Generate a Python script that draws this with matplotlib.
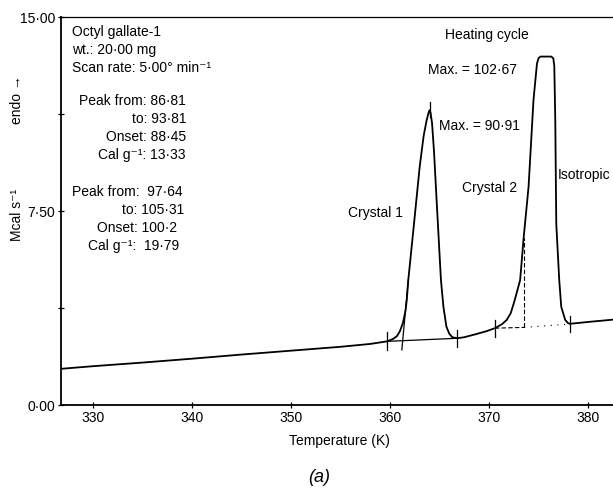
import matplotlib
matplotlib.use("Agg")
import matplotlib.pyplot as plt

plt.rcParams['font.family'] = ['Liberation Sans', 'DejaVu Sans']

# DSC trace
temp = [326.8, 330, 335, 340, 345, 350, 355, 358, 359.7, 360.3, 360.7, 361.0,
        361.3, 361.55, 361.7, 361.85, 362.4, 363.0, 363.4, 363.7, 363.9, 364.0,
        364.1, 364.25, 364.45, 364.7, 365.15, 365.4, 365.7, 366.0, 366.3, 366.8,
        367.5, 368.7, 369.8, 370.6, 371.3, 371.8, 372.2, 372.6, 373.15, 373.5,
        374.0, 374.5, 374.85, 375.0, 375.2, 376.3, 376.5, 376.6, 376.7, 376.8,
        377.1, 377.3, 377.7, 378.0, 378.2, 380, 382.53]
heat = [1.40, 1.50, 1.64, 1.79, 1.95, 2.10, 2.25, 2.36, 2.46, 2.55, 2.66, 2.85,
        3.16, 3.6, 4.06, 4.83, 6.9, 9.2, 10.4, 11.0, 11.3, 11.4,
        11.3, 10.9, 9.8, 8.0, 4.83, 3.80, 3.03, 2.75, 2.62, 2.58,
        2.62, 2.74, 2.86, 2.97, 3.12, 3.29, 3.55, 4.05, 4.83, 6.45,
        8.43, 11.8, 13.2, 13.4, 13.47, 13.47, 13.4, 13.1, 11.0, 7.0,
        4.83, 3.80, 3.29, 3.16, 3.14, 3.21, 3.30]

# peak limit marks
mark_t = [359.7, 366.8, 370.6, 378.2]
mark_lo = [2.13, 2.25, 2.62, 2.81]
mark_hi = [2.83, 2.90, 3.29, 3.44]

# baselines / onset constructions
base1_t = [359.7, 366.8]
base1_v = [2.46, 2.58]
onset1_t = [361.2, 361.85]
onset1_v = [2.13, 4.83]
apex1_t = [364.0, 364.0]
apex1_v = [11.15, 11.7]
base2_t = [370.6, 373.55]
base2_v = [2.97, 3.0]
onset2_t = [373.55, 373.55]
onset2_v = [3.0, 6.45]
base3_t = [373.55, 378.2]
base3_v = [3.0, 3.13]

x_ticks = [330, 340, 350, 360, 370, 380]
y_ticks = [0, 3.75, 7.5, 11.25, 15]
y_labels = ['0·00', '', '7·50', '', '15·00']

header = ['Octyl gallate-1', 'wt.: 20·00 mg', 'Scan rate: 5·00° min⁻¹']
peak1_lines = ['Peak from: 86·81', 'to: 93·81', 'Onset: 88·45', 'Cal g⁻¹: 13·33']
peak2_lines = ['Peak from:  97·64', 'to: 105·31', 'Onset: 100·2', 'Cal g⁻¹:  19·79']
peak2_left = [72, 122, 97, 88]

W, H = 613, 490
fig = plt.figure(figsize=(W / 100, H / 100), dpi=100)
ax = fig.add_axes([61 / W, 1 - 405 / H, 552 / W, 388 / H])


def px(x, y):
    return x / W, 1 - y / H


ax.plot(temp, heat, color='black', lw=1.3)
for t, lo, hi in zip(mark_t, mark_lo, mark_hi):
    ax.plot([t, t], [lo, hi], color='black', lw=0.9)
ax.plot(base1_t, base1_v, color='black', lw=0.9)
ax.plot(onset1_t, onset1_v, color='black', lw=0.9)
ax.plot(apex1_t, apex1_v, color='black', lw=0.9)
ax.plot(base2_t, base2_v, color='black', lw=0.8, ls=(0, (4, 2)))
ax.plot(onset2_t, onset2_v, color='black', lw=0.8, ls=(0, (4, 2)))
ax.plot(base3_t, base3_v, color='black', lw=0.8, ls=(0, (1, 5)))

ax.set_xlim(326.77, 382.53)
ax.set_ylim(0, 15)
ax.set_xticks(x_ticks)
ax.set_yticks(y_ticks)
ax.set_yticklabels(y_labels)
ax.tick_params(direction='inout', length=4, width=0.9, labelsize=10, pad=2)
ax.spines['right'].set_visible(False)
ax.spines['left'].set_linewidth(1.3)
ax.spines['bottom'].set_linewidth(1.3)
ax.spines['top'].set_linewidth(0.9)

fs = 10
for i, s in enumerate(header):
    fig.text(*px(72, 32 + 18 * i), s, fontsize=fs, va='center', ha='left')
for i, s in enumerate(peak1_lines):
    fig.text(*px(186, 101 + 18 * i), s, fontsize=fs, va='center', ha='right')
for i, s in enumerate(peak2_lines):
    fig.text(*px(peak2_left[i], 192 + 18 * i), s, fontsize=fs, va='center', ha='left')

fig.text(*px(487, 35), 'Heating cycle', fontsize=fs, va='center', ha='center')
fig.text(*px(428, 70), 'Max. = 102·67', fontsize=fs, va='center', ha='left')
fig.text(*px(439, 126), 'Max. = 90·91', fontsize=fs, va='center', ha='left')
fig.text(*px(462, 188), 'Crystal 2', fontsize=fs, va='center', ha='left')
fig.text(*px(558, 175), 'Isotropic', fontsize=fs, va='center', ha='left')
fig.text(*px(348, 213), 'Crystal 1', fontsize=fs, va='center', ha='left')

fig.text(*px(17, 215), 'Mcal s⁻¹', fontsize=fs, va='center', ha='center', rotation=90)
fig.text(*px(17, 100), 'endo →', fontsize=fs, va='center', ha='center', rotation=90)
fig.text(*px(339, 441), 'Temperature (K)', fontsize=fs, va='center', ha='center')
fig.text(*px(319, 477), '(a)', fontsize=13, va='center', ha='center', style='italic')

fig.savefig('out.png', dpi=100)
